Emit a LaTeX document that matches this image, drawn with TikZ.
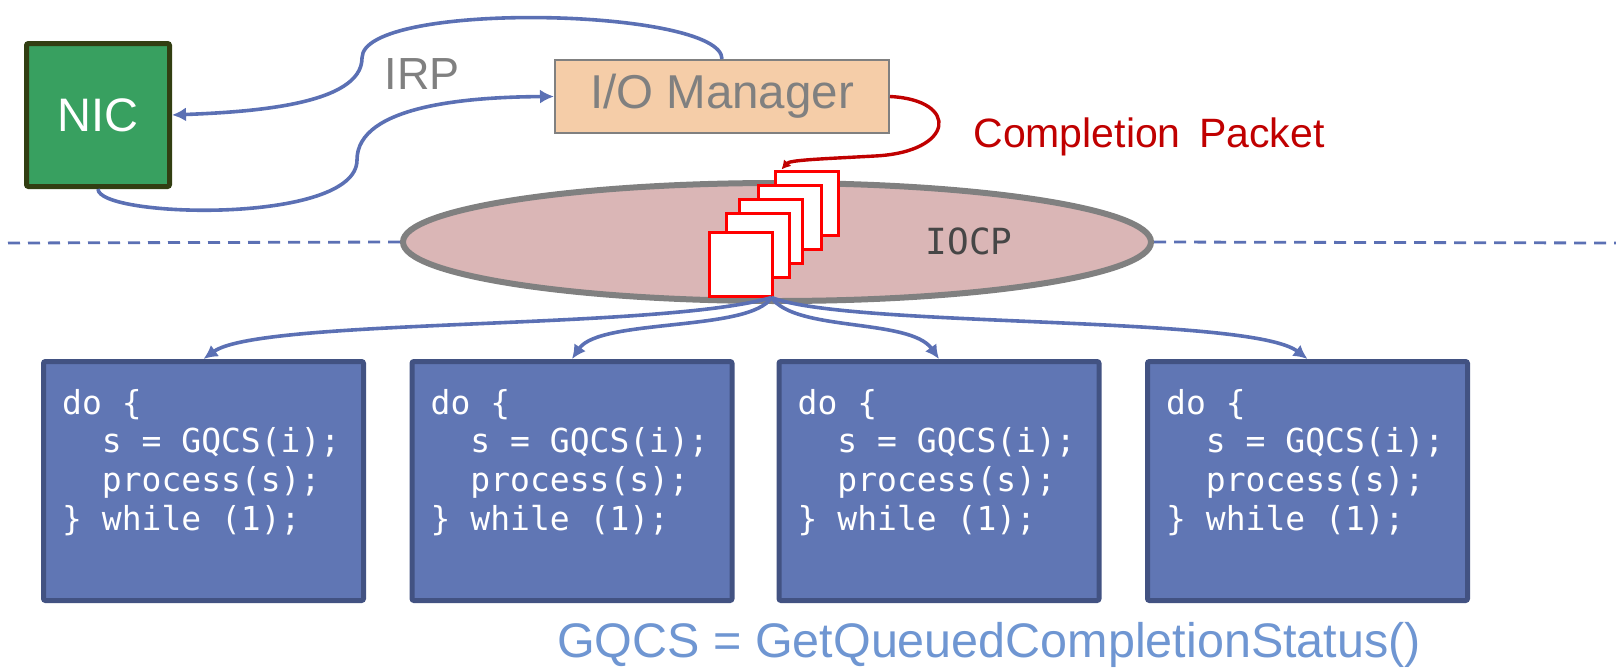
\documentclass[tikz,border=0pt]{standalone}
\usepackage{fontspec}
\setmainfont{Liberation Sans}
\setmonofont{DejaVu Sans Mono}
\usepackage{tikz}
\usepackage{color}
\usetikzlibrary{arrows.meta,shapes.geometric}
\usetikzlibrary{positioning}

\definecolor{nicgreen}{RGB}{56,160,96}
\definecolor{nicedge}{RGB}{50,62,18}
\definecolor{iomfill}{RGB}{245,205,168}
\definecolor{softgray}{RGB}{128,128,128}
\definecolor{linkblue}{RGB}{91,112,180}
\definecolor{darkred}{RGB}{192,0,0}
\definecolor{iocpfill}{RGB}{218,182,182}
\definecolor{iocptext}{RGB}{70,70,70}
\definecolor{workfill}{RGB}{96,118,180}
\definecolor{workedge}{RGB}{66,82,130}
\definecolor{notecolor}{RGB}{111,150,210}

\tikzset{
  wire/.style={draw=linkblue,line width=3.6pt},
  wirearrow/.style={wire,-{Latex[length=14pt,width=14pt]}},
  redwire/.style={draw=darkred,line width=3.4pt,-{Latex[length=9pt,width=10pt]}},
  dashline/.style={draw=linkblue,line width=2.8pt,dash pattern=on 12pt off 8pt},
  pkt/.style={rectangle,draw=red,line width=3pt,fill=white,minimum width=63pt,minimum height=64pt,inner sep=0pt},
  worker/.style={rectangle,draw=workedge,fill=workfill,line width=5pt,rounded corners=2pt,minimum width=320pt,minimum height=239pt,inner sep=0pt},
  codetxt/.style={anchor=north west,inner sep=0pt,align=left,text=white,font=\ttfamily\fontsize{33}{38.6}\selectfont},
  bigtxt/.style={inner sep=0pt,font=\fontsize{47}{56}\selectfont},
}

\begin{document}
\begin{tikzpicture}[x=1pt,y=-1pt]
\useasboundingbox (0,0) rectangle (1616,667);

% divider and the port
\coordinate (dl) at (8,243);
\coordinate (dr) at (1616,243);
\node at (777,242)[ellipse,draw=softgray,fill=iocpfill,line width=6pt,minimum width=748pt,minimum height=118pt,inner sep=0pt](iocp){};
\draw[dashline] (dl) -- (iocp.west);
\draw[dashline] (iocp.east) -- (dr);
\node at (969,241)[inner sep=0pt,text=iocptext,font=\ttfamily\fontsize{36}{42}\selectfont](iocplabel){IOCP};

% queued packets
\node at (806.5,203)[pkt](pk5){};
\node at (789.5,217)[pkt](pk4){};
\node at (770.5,231)[pkt](pk3){};
\node at (757.5,245)[pkt](pk2){};
\node at (740.5,264)[pkt](pk1){};
\coordinate (fan) at ([xshift=-2pt]pk1.south east);

% worker threads
\node at (203.5,481)[worker](b1){};
\node at (572,481)[worker](b2){};
\node at (939,481)[worker](b3){};
\node at (1307.5,481)[worker](b4){};
\node at ([shift={(21,30)}]b1.north west)[codetxt](c1){do \{\\\hphantom{xx}s = GQCS(i);\\\hphantom{xx}process(s);\\\} while (1);};
\node at ([shift={(21,30)}]b2.north west)[codetxt](c2){do \{\\\hphantom{xx}s = GQCS(i);\\\hphantom{xx}process(s);\\\} while (1);};
\node at ([shift={(21,30)}]b3.north west)[codetxt](c3){do \{\\\hphantom{xx}s = GQCS(i);\\\hphantom{xx}process(s);\\\} while (1);};
\node at ([shift={(21,30)}]b4.north west)[codetxt](c4){do \{\\\hphantom{xx}s = GQCS(i);\\\hphantom{xx}process(s);\\\} while (1);};

\draw[wirearrow] (fan) .. controls (660,330) and (260,318) .. (b1.north);
\draw[wirearrow] (fan) .. controls (750,332) and (600,318) .. (b2.north);
\draw[wirearrow] (fan) .. controls (795,332) and (910,318) .. (b3.north);
\draw[wirearrow] (fan) .. controls (850,328) and (1250,315) .. (b4.north);

% device and manager
\node at (98,115)[rectangle,draw=nicedge,fill=nicgreen,line width=5pt,rounded corners=2pt,minimum width=143pt,minimum height=143pt,text=white,font=\fontsize{47}{56}\selectfont](nic){NIC};
\node at (722,96.5)[rectangle,draw=softgray,fill=iomfill,line width=2pt,minimum width=334pt,minimum height=73pt,text=softgray,font=\fontsize{47.5}{56}\selectfont](iom){I/O Manager};

\draw[wirearrow] (iom.north) .. controls (722,8) and (362,0) .. (362,58) .. controls (362,105) and (250,112) .. (nic.east);
\draw[wirearrow] (nic.south) .. controls (98,218) and (357,225) .. (357,160) .. controls (357,105) and (470,97) .. (iom.west);
\draw[redwire] (iom.east) .. controls (960,100) and (955,152) .. (875,156) .. controls (820,159) and (790,160) .. ([xshift=8pt]pk5.north west);

% labels
\node at (422,74)[bigtxt,text=softgray,font=\fontsize{45}{54}\selectfont](irp){IRP};
\node at (1149,137)[bigtxt,text=darkred,font=\fontsize{41}{50}\selectfont](cpl){Completion\hspace{0.45em}Packet};
\node at (989,645)[bigtxt,text=notecolor,font=\fontsize{48.5}{56}\selectfont](gqcs){GQCS = GetQueuedCompletionStatus()};
\end{tikzpicture}
\end{document}
